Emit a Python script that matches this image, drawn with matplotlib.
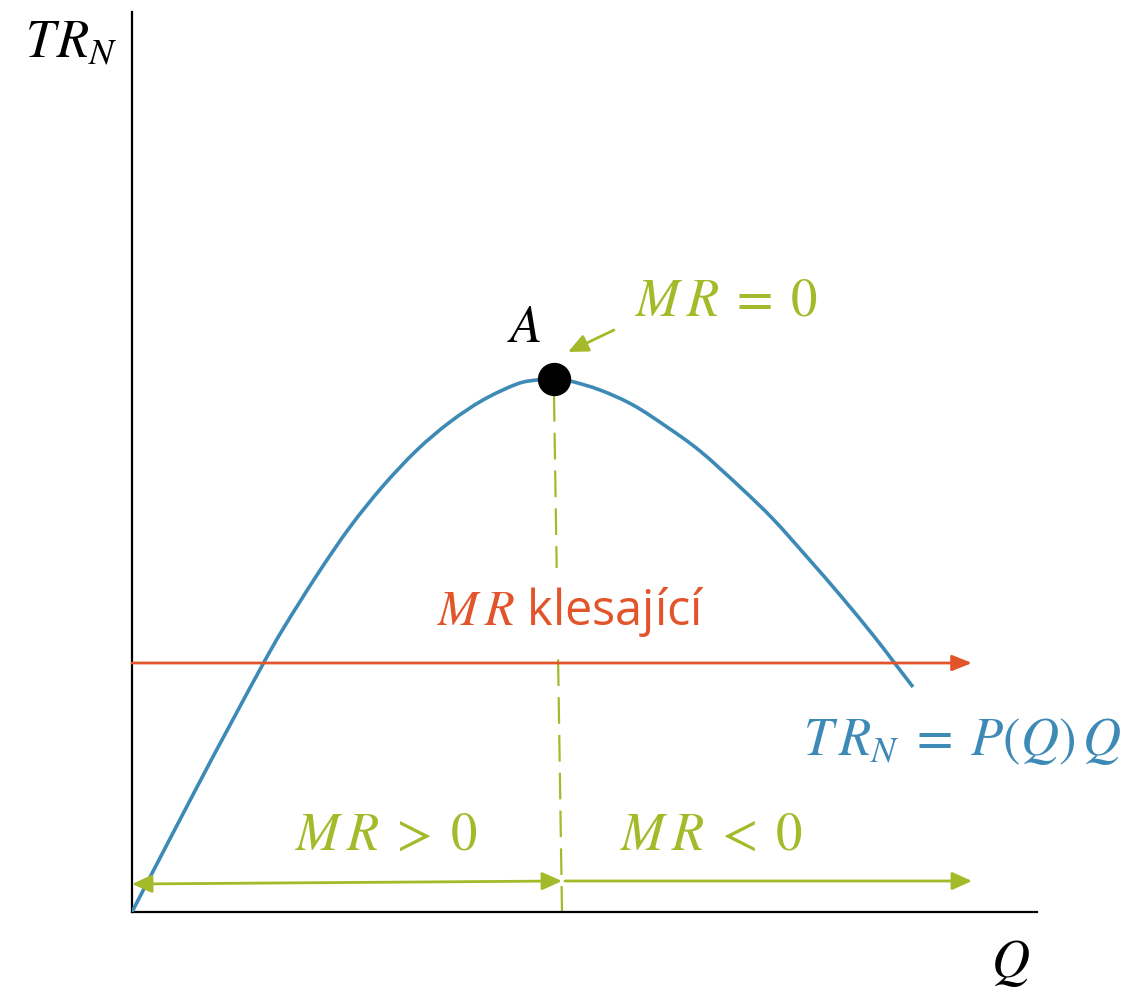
import matplotlib
matplotlib.use('Agg')
from matplotlib import pyplot as plt
from matplotlib.path import Path
from matplotlib.patches import PathPatch

plt.rcParams['mathtext.fontset'] = 'stix'
plt.rcParams['font.family'] = ['Open Sans', 'DejaVu Sans']

# total revenue curve
Q = [0.00, 0.15, 0.65, 0.98, 1.31, 1.51, 1.85, 2.18, 2.51, 2.85, 3.18, 3.51,
     3.85, 4.05, 4.22, 4.38, 4.68, 5.01, 5.35, 5.68, 6.08, 6.41, 6.75, 7.08,
     7.41, 7.61, 7.81]
TR = [0.00, 0.29, 1.25, 1.87, 2.48, 2.83, 3.37, 3.85, 4.26, 4.62, 4.90, 5.12,
      5.28, 5.32, 5.33, 5.31, 5.22, 5.07, 4.85, 4.61, 4.25, 3.93, 3.55, 3.17,
      2.77, 2.51, 2.25]

# point A (max of TR)
A_q, A_tr = 4.22, 5.33
mr_level = 2.49

blue = '#3d8ab7'
green = '#a5ba2a'
orange = '#e2542a'

fig = plt.figure(figsize=(11.45, 9.88), dpi=100)
ax = fig.add_axes([132 / 1145, 76 / 988, 905 / 1145, 900 / 988])
ax.set_xlim(0, 9.05)
ax.set_ylim(0, 9.0)
for s in ['top', 'right']:
    ax.spines[s].set_visible(False)
ax.spines['left'].set_linewidth(1.6)
ax.spines['bottom'].set_linewidth(1.6)
ax.set_xticks([])
ax.set_yticks([])

# smooth curve through the read points (catmull-rom as bezier segments)
pts = list(zip(Q, TR))
verts = [pts[0]]
codes = [Path.MOVETO]
for i in range(len(pts) - 1):
    p0 = pts[max(i - 1, 0)]
    p1 = pts[i]
    p2 = pts[i + 1]
    p3 = pts[min(i + 2, len(pts) - 1)]
    c1 = (p1[0] + (p2[0] - p0[0]) / 6, p1[1] + (p2[1] - p0[1]) / 6)
    c2 = (p2[0] - (p3[0] - p1[0]) / 6, p2[1] - (p3[1] - p1[1]) / 6)
    verts += [c1, c2, p2]
    codes += [Path.CURVE4] * 3
ax.add_patch(PathPatch(Path(verts, codes), facecolor='none', edgecolor=blue,
                       lw=2.6, capstyle='butt', zorder=3))

# dashed line under A
dl, = ax.plot([A_q, 4.30], [A_tr - 0.16, 0], color=green, lw=1.6, zorder=2)
dl.set_dashes((12, 5))

ax.plot([A_q], [A_tr], 'o', color='black', markersize=23, zorder=5)

# red MR line
ax.annotate('', xy=(8.40, mr_level), xytext=(0, mr_level),
            arrowprops=dict(arrowstyle='-|>,head_length=0.4,head_width=0.16',
                            color=orange, lw=2, mutation_scale=30,
                            shrinkA=0, shrinkB=0), zorder=4)

# green arrows at the bottom
ax.annotate('', xy=(4.30, 0.31), xytext=(0, 0.28),
            arrowprops=dict(arrowstyle='<|-|>,head_length=0.4,head_width=0.18',
                            color=green, lw=2, mutation_scale=30,
                            shrinkA=0, shrinkB=0), zorder=4)
ax.annotate('', xy=(8.40, 0.31), xytext=(4.33, 0.31),
            arrowprops=dict(arrowstyle='-|>,head_length=0.4,head_width=0.18',
                            color=green, lw=2, mutation_scale=30,
                            shrinkA=0, shrinkB=0), zorder=4)

# arrow pointing at A
ax.annotate('', xy=(4.36, 5.60), xytext=(4.82, 5.82),
            arrowprops=dict(arrowstyle='-|>,head_length=0.4,head_width=0.18',
                            color=green, lw=2, mutation_scale=30,
                            shrinkA=0, shrinkB=0))

fs = 38
ax.text(-1.07, 8.55, r'$T\!\:R_N$', fontsize=fs, ha='left', va='baseline')
ax.text(8.78, -0.65, r'$Q$', fontsize=fs, ha='center', va='baseline')
ax.text(3.92, 5.70, r'$A$', fontsize=fs, ha='center', va='baseline')
ax.text(5.03, 5.97, r'$M\,R\;=\;0$', fontsize=fs, color=green, ha='left', va='baseline')
ax.text(4.39, 2.87, r'$M\,R$ klesající', fontsize=fs - 3, color=orange,
        ha='center', va='baseline', zorder=3,
        bbox=dict(facecolor='white', edgecolor='none', pad=12))
ax.text(6.71, 1.57, r'$T\,R_N\;=\;P(Q)\,Q$', fontsize=fs, color=blue, ha='left', va='baseline')
ax.text(2.55, 0.62, r'$M\,R\;>\;0$', fontsize=fs, color=green, ha='center', va='baseline')
ax.text(4.88, 0.62, r'$M\,R\;<\;0$', fontsize=fs, color=green, ha='left', va='baseline')

for t in ax.texts:
    t.set_clip_on(False)

fig.savefig('out.png', dpi=100)
